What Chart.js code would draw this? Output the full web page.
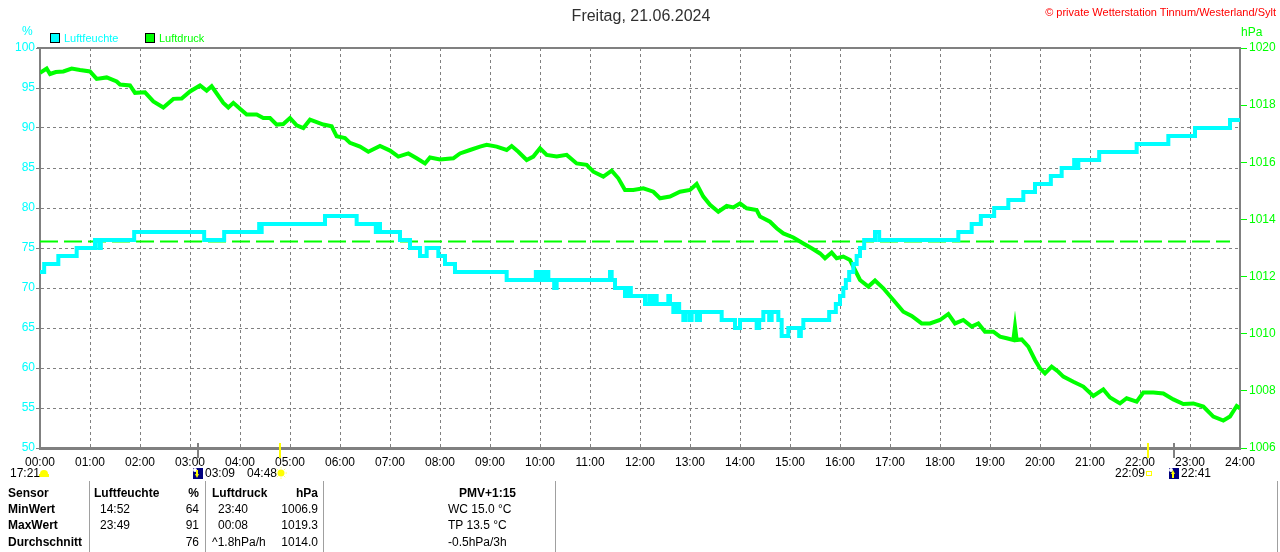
<!DOCTYPE html>
<html>
<head>
<meta charset="utf-8">
<script src="https://cdn.jsdelivr.net/npm/chart.js@4.4.1/dist/chart.umd.min.js"></script>
<style>
html,body{margin:0;padding:0;background:#fff;}
#wrap{position:relative;width:1280px;height:552px;overflow:hidden;font-family:"Liberation Sans",Arial,sans-serif;}
#c{position:absolute;left:0;top:0;}
.t{position:absolute;white-space:nowrap;line-height:14px;font-size:12px;color:#000;}
.b{font-weight:bold;}
.r{text-align:right;}
.sep{position:absolute;top:481px;height:71px;width:1px;background:#a0a0a0;}
.box{position:absolute;width:8px;height:8px;border:1px solid #000;}
</style>
</head>
<body>
<div id="wrap">
<canvas id="c" width="1280" height="552"></canvas>

<div class="t" style="left:0;width:1282px;text-align:center;top:7px;font-size:16px;line-height:18px;color:#303030;">Freitag, 21.06.2024</div>
<div class="t" style="right:4px;top:5px;font-size:11px;color:#ff0000;">© private Wetterstation Tinnum/Westerland/Sylt</div>

<div class="t" style="left:22px;top:24px;color:#00ffff;font-size:12px;">%</div>
<div class="box" style="left:50px;top:33px;background:#00ffff;"></div>
<div class="t" style="left:64px;top:31px;font-size:11px;color:#00ffff;">Luftfeuchte</div>
<div class="box" style="left:145px;top:33px;background:#00ff00;"></div>
<div class="t" style="left:159px;top:31px;font-size:11px;color:#00ff00;">Luftdruck</div>
<div class="t" style="left:1241px;top:25px;color:#00ff00;font-size:12px;">hPa</div>

<!-- sun / moon times -->
<div class="t" style="left:10px;top:466px;">17:21</div>
<div class="t" style="left:205px;top:466px;">03:09</div>
<div class="t" style="left:247px;top:466px;">04:48</div>
<div class="t" style="left:1115px;top:466px;">22:09</div>
<div class="t" style="left:1181px;top:466px;">22:41</div>

<!-- table -->
<div class="sep" style="left:89px;"></div>
<div class="sep" style="left:205px;"></div>
<div class="sep" style="left:323px;"></div>
<div class="sep" style="left:555px;"></div>
<div class="sep" style="left:1277px;"></div>

<div class="t b" style="left:8px;top:486px;">Sensor</div>
<div class="t b" style="left:8px;top:502px;">MinWert</div>
<div class="t b" style="left:8px;top:518px;">MaxWert</div>
<div class="t b" style="left:8px;top:535px;">Durchschnitt</div>

<div class="t b" style="left:94px;top:486px;">Luftfeuchte</div>
<div class="t b r" style="left:150px;width:49px;top:486px;">%</div>
<div class="t" style="left:100px;top:502px;">14:52</div>
<div class="t r" style="left:150px;width:49px;top:502px;">64</div>
<div class="t" style="left:100px;top:518px;">23:49</div>
<div class="t r" style="left:150px;width:49px;top:518px;">91</div>
<div class="t r" style="left:150px;width:49px;top:535px;">76</div>

<div class="t b" style="left:212px;top:486px;">Luftdruck</div>
<div class="t b r" style="left:260px;width:58px;top:486px;">hPa</div>
<div class="t" style="left:218px;top:502px;">23:40</div>
<div class="t r" style="left:260px;width:58px;top:502px;">1006.9</div>
<div class="t" style="left:218px;top:518px;">00:08</div>
<div class="t r" style="left:260px;width:58px;top:518px;">1019.3</div>
<div class="t" style="left:212px;top:535px;">^1.8hPa/h</div>
<div class="t r" style="left:260px;width:58px;top:535px;">1014.0</div>

<div class="t b" style="left:459px;top:486px;">PMV+1:15</div>
<div class="t" style="left:448px;top:502px;">WC 15.0 °C</div>
<div class="t" style="left:448px;top:518px;">TP 13.5 °C</div>
<div class="t" style="left:448px;top:535px;">-0.5hPa/3h</div>
</div>

<script>
// ---------- data ----------
const hourLabels = ['00:00','01:00','02:00','03:00','04:00','05:00','06:00','07:00','08:00','09:00','10:00','11:00','12:00',
  '13:00','14:00','15:00','16:00','17:00','18:00','19:00','20:00','21:00','22:00','23:00','24:00'];

// Luftfeuchte (%), step changes: minute of day -> value
const humTimes = [0,5,22,44,66,71,73,113,197,221,263,264,266,342,380,403,406,408,432,444,456,464,478,486,498,560,
  595,598,600,604,607,610,617,620,684,686,690,702,706,709,726,731,734,738,740,754,756,760,763,767,772,775,780,782,
  788,792,818,834,840,860,863,868,875,878,886,890,898,911,913,916,947,955,960,964,967,971,976,980,984,989,1002,1007,
  1102,1118,1129,1145,1162,1180,1194,1213,1226,1241,1243,1246,1271,1316,1354,1386,1428,1440];
const humValues = [72,73,74,75,76,75,76,77,76,77,78,77,78,79,78,77,78,77,76,75,74,75,74,73,72,71,
  72,71,72,71,72,71,70,71,72,71,70,69,70,69,68,69,68,69,68,69,68,67,68,67,66,67,66,67,
  66,67,66,65,66,65,66,67,66,67,66,64,65,64,65,66,67,68,69,70,71,72,73,74,75,76,77,76,
  77,78,79,80,81,82,83,84,85,86,85,86,87,88,89,90,91,91];

// Luftdruck (hPa)
const presTimes = [0,8,12,19,28,38,48,60,68,80,
  92,96,108,114,126,136,148,160,170,180,
  192,200,206,220,226,232,240,248,260,268,
  276,284,292,300,308,316,324,340,350,356,
  366,372,384,394,408,420,430,442,452,462,
  468,480,496,504,516,528,536,548,560,566,
  574,584,592,600,608,620,632,644,656,664,
  676,686,694,702,712,724,736,744,756,768,
  780,788,796,804,814,824,832,840,848,860,
  864,876,884,892,904,916,926,936,942,950,
  956,964,972,978,984,994,1002,1012,1024,1036,
  1046,1058,1068,1080,1090,1098,1108,1118,1126,1134,
  1144,1152,1160,1168,1170,1172,1178,1186,1194,1200,
  1206,1214,1222,1228,1240,1252,1264,1276,1284,1296,
  1304,1316,1324,1336,1348,1360,1372,1384,1396,1408,
  1420,1428,1436,1440];
const presValues = [1019.13,1019.28,1019.09,1019.16,1019.18,1019.28,1019.23,1019.18,1018.92,1018.97,
  1018.83,1018.72,1018.69,1018.43,1018.45,1018.13,1017.92,1018.22,1018.23,1018.48,
  1018.69,1018.51,1018.66,1018.08,1017.92,1018.08,1017.87,1017.67,1017.67,1017.55,
  1017.55,1017.32,1017.34,1017.55,1017.29,1017.20,1017.49,1017.32,1017.26,1016.91,
  1016.85,1016.68,1016.55,1016.37,1016.57,1016.41,1016.20,1016.31,1016.14,1015.96,
  1016.17,1016.10,1016.14,1016.31,1016.43,1016.55,1016.61,1016.55,1016.43,1016.57,
  1016.37,1016.08,1016.20,1016.49,1016.26,1016.20,1016.26,1015.96,1015.91,1015.67,
  1015.50,1015.71,1015.44,1015.03,1015.03,1015.09,1014.97,1014.74,1014.80,1014.97,
  1015.03,1015.24,1014.80,1014.51,1014.27,1014.47,1014.42,1014.56,1014.39,1014.33,
  1014.10,1013.92,1013.69,1013.51,1013.37,1013.16,1012.99,1012.81,1012.64,1012.84,
  1012.64,1012.70,1012.58,1012.23,1011.88,1011.65,1011.86,1011.59,1011.18,1010.77,
  1010.62,1010.36,1010.36,1010.48,1010.69,1010.36,1010.48,1010.25,1010.36,1010.07,
  1010.07,1009.90,1009.84,1009.78,1010.25,1009.78,1009.80,1009.55,1009.08,1008.79,
  1008.61,1008.85,1008.67,1008.50,1008.32,1008.15,1007.82,1008.05,1007.77,1007.56,
  1007.74,1007.62,1007.94,1007.94,1007.91,1007.70,1007.54,1007.56,1007.45,1007.10,
  1006.96,1007.10,1007.47,1007.39];

// average humidity line
const avgHumidity = 75.8;
const avgSpan = [0, 1428];

// sun / moon events
const eventTimes  = ['03:09','04:48','22:09','22:41'];
const eventKinds  = ['moonset','sunrise','sunset','moonrise'];

// ---------- helpers ----------
const toMin = s => { const [h,m] = s.split(':').map(Number); return h*60+m; };
const GRID = '#808080';
const FONT = {family:'"Liberation Sans", Arial, sans-serif', size:12};

const framePlugin = {
  id:'framePlugin',
  afterDraw(chart){
    const {ctx, chartArea:a, scales:{x}} = chart;
    ctx.save();
    // top frame line
    ctx.strokeStyle = GRID; ctx.lineWidth = 2;
    ctx.beginPath(); ctx.moveTo(a.left-3, a.top); ctx.lineTo(a.right+1, a.top); ctx.stroke();
    // event markers & icons
    const iy = 473;
    eventTimes.forEach((t,i)=>{
      const px = Math.round(x.getPixelForValue(toMin(t)));
      const kind = eventKinds[i];
      const isSun = kind.startsWith('sun');
      ctx.strokeStyle = isSun ? '#ffff00' : GRID;
      ctx.lineWidth = 2;
      ctx.beginPath(); ctx.moveTo(px, a.bottom-5); ctx.lineTo(px, a.bottom+10); ctx.stroke();
      if (kind === 'sunrise'){
        ctx.fillStyle = '#ffff00';
        ctx.beginPath(); ctx.arc(px+1, iy, 3.5, 0, Math.PI*2); ctx.fill();
        ctx.strokeStyle = '#ffff66'; ctx.lineWidth = 1;
        for(let k=0;k<8;k++){ const an=k*Math.PI/4; ctx.beginPath();
          ctx.moveTo(px+1+Math.cos(an)*4.5, iy+Math.sin(an)*4.5); ctx.lineTo(px+1+Math.cos(an)*6, iy+Math.sin(an)*6); ctx.stroke(); }
      } else if (kind === 'sunset'){
        ctx.strokeStyle = '#ffff00'; ctx.lineWidth = 1;
        ctx.strokeRect(px-1.5, iy-1.5, 5, 4);
      } else {
        ctx.fillStyle = '#000080';
        ctx.fillRect(px-5, iy-5, 10, 11);
        ctx.fillStyle = '#ffffff';
        ctx.beginPath(); ctx.arc(px-3, iy-3, 2, 0, Math.PI*2); ctx.fill();
        ctx.fillStyle = '#ffff00';
        ctx.beginPath();
        if (kind === 'moonset'){ ctx.moveTo(px-3, iy+1); ctx.lineTo(px+1, iy+1); ctx.lineTo(px-1, iy+5); }
        else { ctx.moveTo(px-3, iy+1); ctx.lineTo(px+1, iy+1); ctx.lineTo(px-1, iy-3); }
        ctx.fill();
        ctx.fillRect(px-2, kind==='moonset'? iy-3: iy+1, 2, 4);
      }
    });
    // small yellow cloud near 17:21 label
    ctx.fillStyle = '#ffff00';
    ctx.beginPath(); ctx.arc(44, 474, 4, Math.PI, 0); ctx.fill();
    ctx.fillRect(39, 474, 10, 3);
    ctx.restore();
  }
};

new Chart(document.getElementById('c'), {
  type:'line',
  data:{
    datasets:[
      {label:'Luftfeuchte', yAxisID:'y', stepped:true,
       data: humTimes.map((t,i)=>({x:t, y:humValues[i]})),
       borderColor:'#00ffff', borderWidth:4, pointRadius:0, fill:false},
      {label:'Luftdruck', yAxisID:'y2',
       data: presTimes.map((t,i)=>({x:t, y:presValues[i]})),
       borderColor:'#00ff00', borderWidth:4, pointRadius:0, tension:0, fill:false},
      {label:'Durchschnitt', yAxisID:'y',
       data: avgSpan.map(t=>({x:t, y:avgHumidity})),
       borderColor:'#00ff00', borderWidth:2, borderDash:[18,6], pointRadius:0, fill:false}
    ]
  },
  options:{
    responsive:false, animation:false, devicePixelRatio:1,
    layout:{padding:{top:48,left:0,right:0,bottom:0}},
    plugins:{legend:{display:false}, tooltip:{enabled:false}, title:{display:false}},
    scales:{
      x:{type:'linear', min:0, max:1440,
         afterFit(s){ s.height = 104; },
         ticks:{stepSize:60, autoSkip:false, maxRotation:0, padding:7, color:'#000', font:FONT,
                callback:v=>hourLabels[v/60]},
         grid:{color:GRID, lineWidth:1, drawTicks:false},
         border:{color:GRID, width:3, dash:[3,3]}},
      y:{position:'left', min:50, max:100,
         afterFit(s){ s.width = 40; },
         ticks:{stepSize:5, color:'#00ffff', font:FONT, padding:1, callback:v=>String(v)},
         grid:{color:GRID, lineWidth:1, tickLength:4, tickColor:GRID},
         border:{color:GRID, width:2, dash:[3,3]}},
      y2:{position:'right', min:1006, max:1020,
         afterFit(s){ s.width = 40; },
         ticks:{stepSize:2, color:'#00ff00', font:FONT, padding:2, callback:v=>String(v)},
         grid:{drawOnChartArea:false, tickLength:7, tickColor:'#00ff00', tickWidth:1},
         border:{color:GRID, width:2}}
    }
  },
  plugins:[framePlugin]
});
</script>
</body>
</html>
